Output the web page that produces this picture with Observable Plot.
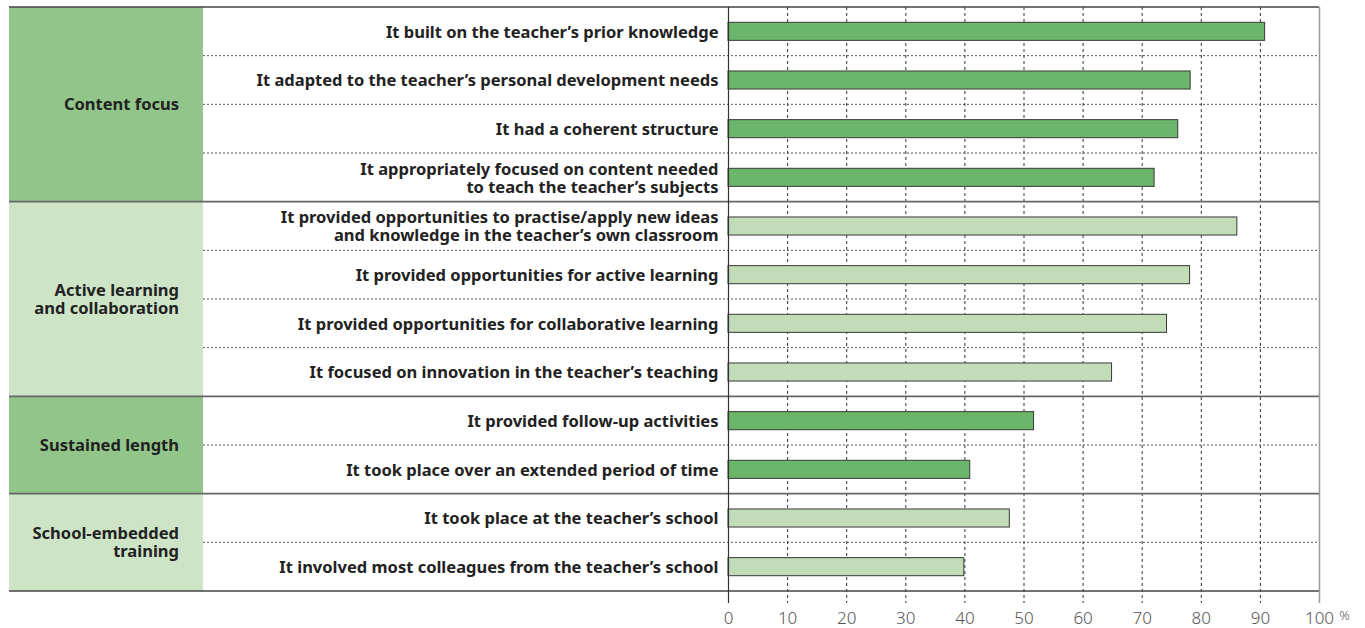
<!DOCTYPE html>
<html><head><meta charset="utf-8">
<script src="https://cdn.jsdelivr.net/npm/d3@7"></script>
<script src="https://cdn.jsdelivr.net/npm/@observablehq/plot@0.6"></script>
<style>body{margin:0;background:#fff;} svg{display:block;}</style>
</head><body><div id="chart"></div>
<script>
// ---- data ----
const groupNames = ["Content focus", "Active learning\nand collaboration", "Sustained length", "School-embedded\ntraining"];
const labels = [
  "It built on the teacher’s prior knowledge",
  "It adapted to the teacher’s personal development needs",
  "It had a coherent structure",
  "It appropriately focused on content needed\nto teach the teacher’s subjects",
  "It provided opportunities to practise/apply new ideas\nand knowledge in the teacher’s own classroom",
  "It provided opportunities for active learning",
  "It provided opportunities for collaborative learning",
  "It focused on innovation in the teacher’s teaching",
  "It provided follow-up activities",
  "It took place over an extended period of time",
  "It took place at the teacher’s school",
  "It involved most colleagues from the teacher’s school"
];
const itemGroup = [0,0,0,0,1,1,1,1,2,2,3,3];
const values = [90.8, 78.2, 76.1, 72.1, 86.1, 78.1, 74.2, 64.9, 51.7, 40.9, 47.6, 39.9];
const xTicks = [0,10,20,30,40,50,60,70,80,90,100];
const gridTicks = [10,20,30,40,50,60,70,80,90];

// ---- styles ----
const barColors = ["#6bb66b", "#c1dcb7"];
const panelColors = ["#92c58a", "#cde4c7"];
const panelLeft = 9, panelRight = 203, groupLabelRight = 179;
const FONT = "'Noto Sans', 'Open Sans', sans-serif";
const LABEL_SIZE = 16.5;

const rows = labels.map((label, i) => ({label, value: values[i], group: itemGroup[i], shade: itemGroup[i] % 2}));

function groupSpans(y, bw) {
  return groupNames.map((name, g) => {
    const members = labels.filter((_, i) => itemGroup[i] === g);
    return {name, g, members, top: y(members[0]), bottom: y(members[members.length - 1]) + bw};
  });
}
function bandwidthOf(y, dims) {
  return y.bandwidth ? y.bandwidth() : (dims.height - dims.marginTop - dims.marginBottom) / labels.length;
}

function panelsMark(index, scales, values, dims) {
  const y = scales.y, bw = bandwidthOf(y, dims);
  const g = d3.create("svg:g");
  for (const s of groupSpans(y, bw)) {
    g.append("rect").attr("x", panelLeft).attr("y", s.top).attr("width", panelRight - panelLeft)
      .attr("height", s.bottom - s.top).attr("fill", panelColors[s.g % 2]);
    const lines = s.name.split("\n");
    const lh = 18;
    const t = g.append("text").attr("text-anchor", "end").attr("font-family", FONT)
      .attr("font-weight", "bold").attr("font-size", LABEL_SIZE).attr("fill", "#222");
    lines.forEach((ln, k) => {
      t.append("tspan").attr("x", groupLabelRight)
        .attr("y", (s.top + s.bottom) / 2 + (k - (lines.length - 1) / 2) * lh)
        .attr("dy", "0.35em").text(ln);
    });
  }
  return g.node();
}

function linesMark(index, scales, values, dims) {
  const y = scales.y, bw = bandwidthOf(y, dims);
  const right = dims.width - dims.marginRight;
  const g = d3.create("svg:g");
  for (const s of groupSpans(y, bw)) {
    s.members.slice(0, -1).forEach(m => {
      const yy = y(m) + bw;
      g.append("line").attr("x1", panelRight).attr("x2", right).attr("y1", yy).attr("y2", yy)
        .attr("stroke", "#555").attr("stroke-width", 1).attr("stroke-dasharray", "2,2");
    });
  }
  const spans = groupSpans(y, bw);
  const ys = spans.map(s => s.top).concat([spans[spans.length - 1].bottom]);
  ys.forEach((yy, k) => {
    g.append("line").attr("x1", panelLeft).attr("x2", right).attr("y1", yy).attr("y2", yy)
      .attr("stroke", k === 0 || k === ys.length - 1 ? "#444" : "#666").attr("stroke-width", 1.6);
  });
  return g.node();
}

const chart = Plot.plot({
  width: 1365,
  height: 628,
  marginLeft: 728,
  marginRight: 46,
  marginTop: 7,
  marginBottom: 37,
  style: {fontFamily: FONT, background: "#fff", overflow: "visible"},
  x: {domain: [0, 100], axis: null},
  y: {domain: labels, padding: 0, round: false, axis: null},
  color: {domain: [0, 1], range: barColors},
  marks: [
    panelsMark,
    Plot.ruleX(gridTicks, {x: d => d, stroke: "#333", strokeWidth: 1, strokeDasharray: "3,3", insetBottom: -12}),
    linesMark,
    Plot.ruleX([100], {x: d => d, stroke: "#999", strokeWidth: 1.5, insetBottom: -12}),
    Plot.barX(rows, {x: "value", y: "label", fill: "shade", stroke: "#3a3a3a", strokeWidth: 1, insetTop: 15.3, insetBottom: 15.3}),
    Plot.ruleX([0], {x: d => d, stroke: "#333", strokeWidth: 1.2, insetBottom: -12}),
    Plot.text(rows, {y: "label", text: "label", frameAnchor: "left", dx: -10, textAnchor: "end",
      fontWeight: "bold", fontSize: LABEL_SIZE, fill: "#222", lineHeight: 1.09}),
    Plot.axisX(xTicks, {tickSize: 0, tickPadding: 20, fontSize: 17, fill: "#555", fontWeight: 300,
      label: null, tickFormat: d => String(d)}),
    Plot.text([100], {x: d => d, frameAnchor: "bottom", dy: 28, dx: 25, text: () => "%", fontSize: 13, fill: "#555", fontWeight: 300})
  ]
});
document.getElementById("chart").appendChild(chart);
</script>
</body></html>
